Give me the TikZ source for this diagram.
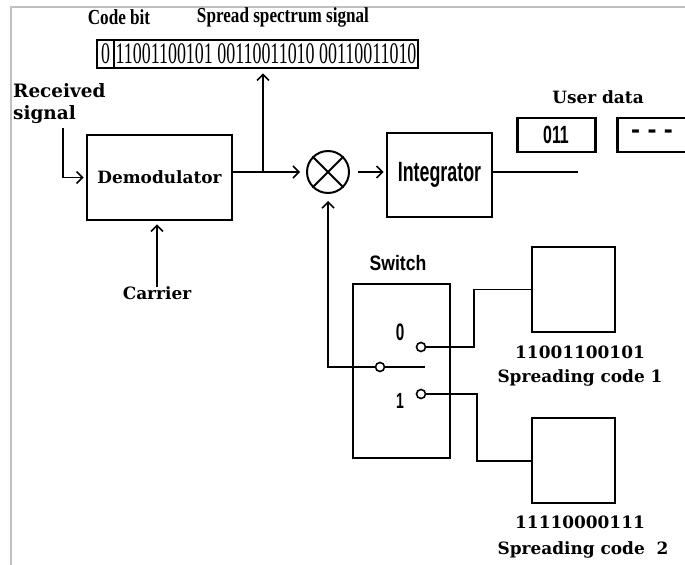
\documentclass[tikz,border=0pt]{standalone}
\usepackage{fontspec}
\usetikzlibrary{arrows.meta}
\newfontfamily\labfont{DejaVu Serif}
\newfontfamily\topfont{Liberation Serif}[FakeStretch=0.8]
\newfontfamily\bitfont{Liberation Serif}[FakeStretch=0.6]
\newfontfamily\condfont{Liberation Sans}[FakeStretch=0.64]
\newfontfamily\semicondfont{Liberation Sans}[FakeStretch=0.84]
\newfontfamily\dashfont{Liberation Sans}
\definecolor{framegray}{HTML}{C0C0C0}
\tikzset{
  wire/.style={line width=2pt, line cap=rect},
  arr/.style={wire, -{Straight Barb[length=6pt,width=12pt,line width=1.6pt]}},
  blk/.style={draw, line width=2.6pt, inner sep=0pt},
  lab/.style={font=\labfont\bfseries\fontsize{17}{21}\selectfont, inner sep=0pt},
  toplab/.style={font=\topfont\bfseries\fontsize{21.5}{24}\selectfont, inner sep=0pt},
  bits/.style={font=\bitfont\fontsize{30}{30}\selectfont, inner sep=0pt},
  cond/.style={font=\condfont\bfseries\fontsize{#1}{#1}\selectfont, inner sep=0pt},
  contact/.style={circle, draw, line width=1.6pt, minimum size=9bp, inner sep=0pt, fill=white},
}
\begin{document}
\begin{tikzpicture}[x=1bp,y=-1bp]
\useasboundingbox (0,0) rectangle (685,565);
% page frame
\draw[framegray, line width=2bp] (11,565) -- (11,7) -- (685,7);

% spread spectrum register
\node[toplab] (cbl) at (119,17) {Code bit};
\node[toplab] (ssl) at (283,17) {Spread spectrum signal};
\node[blk, bits, minimum width=17bp, minimum height=28bp] (cb) at (105.5,54) {0};
\node[blk, bits, minimum width=304bp, minimum height=28bp] (ss) at (266,54) {11001100101 00110011010 00110011010};

% receiver chain
\node[lab, font=\labfont\bfseries\fontsize{18.5}{22}\selectfont, align=left, anchor=north west] (rcv) at (13,83) {Received\\signal};
\node[blk, lab, minimum width=145bp, minimum height=85bp] (demod) at (159.5,177.5) {Demodulator};
\node[circle, draw, line width=2pt, minimum size=42bp, inner sep=0pt] (mul) at (328,172) {};
\draw[line width=2pt] (mul.north west) -- (mul.south east) (mul.north east) -- (mul.south west);
\node[blk, cond=28, minimum width=105bp, minimum height=84bp] (integ) at (439.5,175) {Integrator};
\node[lab] (car) at (157,293) {Carrier};

% user data
\node[lab] (udl) at (598,97) {User data};
\node[blk, cond=25, line width=3pt, minimum width=78bp, minimum height=34bp] (ud1) at (556,135) {011};
\node[blk, line width=3pt, minimum width=86bp, minimum height=34bp] (ud2) at (660,135) {};
\node[font=\dashfont\bfseries\fontsize{27}{27}\selectfont, inner sep=0pt] (ud2t) at (652,134) {- - -};

% code switch
\node[font=\semicondfont\bfseries\fontsize{21}{21}\selectfont, inner sep=0pt] (swl) at (398,263) {Switch};
\node[blk, minimum width=97bp, minimum height=174bp] (sw) at (401.5,371) {};
\node[cond=24] (l0) at (400,332) {0};
\node[cond=22] (l1) at (400,401) {1};
\node[contact] (c0) at (421,347) {};
\node[contact] (c1) at (421,394) {};
\node[contact] (piv) at (380,367) {};
\coordinate (lever) at (424,367);

% spreading code generators
\node[blk, minimum width=83bp, minimum height=85bp] (sc1) at (573.5,289.5) {};
\node[blk, minimum width=83bp, minimum height=85bp] (sc2) at (573.5,460.5) {};
\node[lab] (n1) at (580,352) {11001100101};
\node[lab] (t1) at (580,378) {Spreading code 1};
\node[lab] (n2) at (580,522) {11110000111};
\node[lab] (t2) at (583,550) {Spreading code~ 2};

% connectors
\coordinate (rs) at (63,129);
\coordinate (tap) at (263,172);
\coordinate (outend) at (577,172);
\draw[arr, shorten >=2bp] (rs) |- (demod.west);
\draw[arr, shorten >=6bp] (demod.east |- mul) -- (mul.west);
\draw[arr, shorten >=4bp] (tap) -- (tap |- ss.south);
\draw[arr, shorten <=9bp, shorten >=2bp] (mul.east) -- (integ.west |- mul);
\draw[wire] (integ.east |- mul) -- (outend);
\draw[arr, shorten >=3bp] (car.north) -- (car.north |- demod.south);
\draw[arr, shorten >=7bp] (piv.west) -| (mul.south);
\draw[wire] (piv.east) -- (lever);
\draw[wire] (c0.east) -- ++(48,0) |- (sc1.west);
\draw[wire] (c1.east) -- ++(51,0) |- (sc2.west);
\end{tikzpicture}
\end{document}
